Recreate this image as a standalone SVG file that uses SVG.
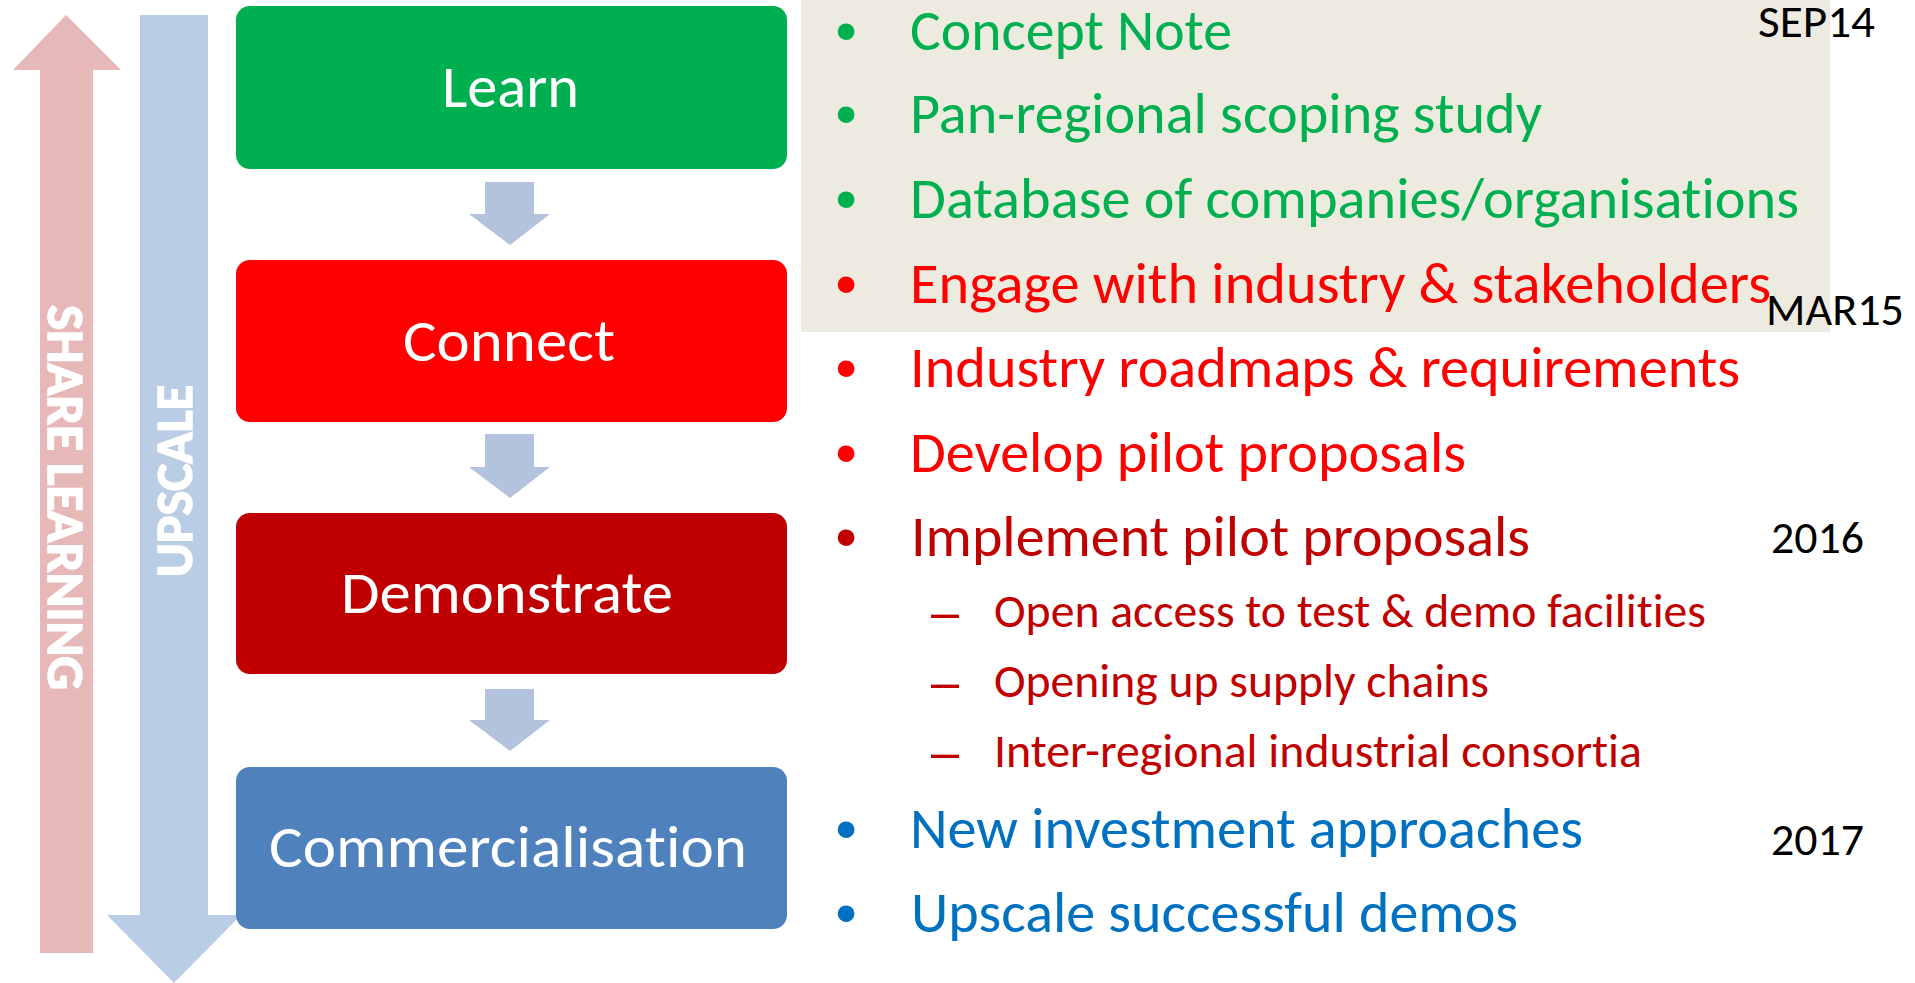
<svg xmlns="http://www.w3.org/2000/svg" width="1915" height="983" viewBox="0 0 1915 983">
<style>
text{font-family:Carlito,Calibri,"Liberation Sans",sans-serif;font-variant-ligatures:none;font-feature-settings:"liga" 0,"clig" 0;}
.box{stroke:none;}
.bt{fill:#ffffff;font-size:60px;}
.side{fill:#ffffff;stroke:#ffffff;stroke-width:1.5px;font-size:52px;font-weight:bold;}
.li{font-size:57px;}
.sub{font-size:47px;fill:#C00000;}
.bul{font-family:"Liberation Sans",sans-serif;font-size:62px;text-anchor:middle;}
.dash{font-family:"Liberation Sans",sans-serif;font-size:50px;fill:#C00000;}
.date{font-size:46px;fill:#000000;}
.g{fill:#00B050;}
.r{fill:#FF0000;}
.dr{fill:#C00000;}
.b{fill:#0070C0;}
.conn{fill:#B3C3DD;}
</style>
<rect x="0" y="0" width="1915" height="983" fill="#ffffff"/>
<rect id="highlight" x="801" y="0" width="1029" height="332" fill="#EDEBE0"/>
<g id="share-learning">
<polygon points="66,15 121,70 93,70 93,953 40,953 40,70 13,70" fill="#E6B9B8"/>
<text class="side" transform="translate(48,305) rotate(90)" x="0" y="0" textLength="385" lengthAdjust="spacingAndGlyphs">SHARE LEARNING</text>
</g>
<g id="upscale">
<polygon points="140,15 208,15 208,915 241,915 174,983 107,915 140,915" fill="#B9CDE5"/>
<text class="side" transform="translate(192,577) rotate(-90)" x="0" y="0" textLength="192" lengthAdjust="spacingAndGlyphs">UPSCALE</text>
</g>
<g id="connectors">
<polygon class="conn" points="485,182 534,182 534,214 550,214 510,245 469,214 485,214"/>
<polygon class="conn" points="485,434 534,434 534,467 550,467 510,498 469,467 485,467"/>
<polygon class="conn" points="485,689 534,689 534,720 550,720 510,751 469,720 485,720"/>
</g>
<g id="learn">
<rect class="box" x="236" y="6" width="551" height="163" rx="14" fill="#00B050"/>
<text class="bt" x="442" y="107" textLength="137" lengthAdjust="spacingAndGlyphs">Learn</text>
</g>
<g id="connect">
<rect class="box" x="236" y="260" width="551" height="162" rx="14" fill="#FF0000"/>
<text class="bt" x="403" y="361" textLength="212" lengthAdjust="spacingAndGlyphs">Connect</text>
</g>
<g id="demonstrate">
<rect class="box" x="236" y="513" width="551" height="161" rx="14" fill="#C00000"/>
<text class="bt" x="341" y="613" textLength="332" lengthAdjust="spacingAndGlyphs">Demonstrate</text>
</g>
<g id="commercialisation">
<rect class="box" x="236" y="767" width="551" height="162" rx="14" fill="#4F81BD"/>
<text class="bt" x="269" y="867" textLength="478" lengthAdjust="spacingAndGlyphs">Commercialisation</text>
</g>
<g id="activities">
<text class="bul g" x="846" y="52">•</text>
<text class="li g" x="910" y="50" textLength="322" lengthAdjust="spacingAndGlyphs">Concept Note</text>
<text class="bul g" x="846" y="135">•</text>
<text class="li g" x="910" y="133" textLength="632" lengthAdjust="spacingAndGlyphs">Pan-regional scoping study</text>
<text class="bul g" x="846" y="220">•</text>
<text class="li g" x="910" y="218" textLength="889" lengthAdjust="spacingAndGlyphs">Database of companies/organisations</text>
<text class="bul r" x="846" y="305">•</text>
<text class="li r" x="910" y="303" textLength="861" lengthAdjust="spacingAndGlyphs">Engage with industry &amp; stakeholders</text>
<text class="bul r" x="846" y="389">•</text>
<text class="li r" x="910" y="387" textLength="830" lengthAdjust="spacingAndGlyphs">Industry roadmaps &amp; requirements</text>
<text class="bul r" x="846" y="474">•</text>
<text class="li r" x="910" y="472" textLength="556" lengthAdjust="spacingAndGlyphs">Develop pilot proposals</text>
<text class="bul dr" x="846" y="558">•</text>
<text class="li dr" x="911" y="556" textLength="619" lengthAdjust="spacingAndGlyphs">Implement pilot proposals</text>
<text class="dash" x="931" y="629" textLength="28" lengthAdjust="spacingAndGlyphs">–</text>
<text class="sub" x="994" y="627" textLength="712" lengthAdjust="spacingAndGlyphs">Open access to test &amp; demo facilities</text>
<text class="dash" x="931" y="699" textLength="28" lengthAdjust="spacingAndGlyphs">–</text>
<text class="sub" x="994" y="697" textLength="495" lengthAdjust="spacingAndGlyphs">Opening up supply chains</text>
<text class="dash" x="931" y="769" textLength="28" lengthAdjust="spacingAndGlyphs">–</text>
<text class="sub" x="994" y="767" textLength="648" lengthAdjust="spacingAndGlyphs">Inter-regional industrial consortia</text>
<text class="bul b" x="846" y="850">•</text>
<text class="li b" x="910" y="848" textLength="673" lengthAdjust="spacingAndGlyphs">New investment approaches</text>
<text class="bul b" x="846" y="934">•</text>
<text class="li b" x="911" y="932" textLength="607" lengthAdjust="spacingAndGlyphs">Upscale successful demos</text>
</g>
<g id="dates">
<text class="date" x="1758" y="37" textLength="117" lengthAdjust="spacingAndGlyphs">SEP14</text>
<text class="date" x="1766" y="325" textLength="138" lengthAdjust="spacingAndGlyphs">MAR15</text>
<text class="date" x="1771" y="553" textLength="93" lengthAdjust="spacingAndGlyphs">2016</text>
<text class="date" x="1771" y="855" textLength="93" lengthAdjust="spacingAndGlyphs">2017</text>
</g>
</svg>
